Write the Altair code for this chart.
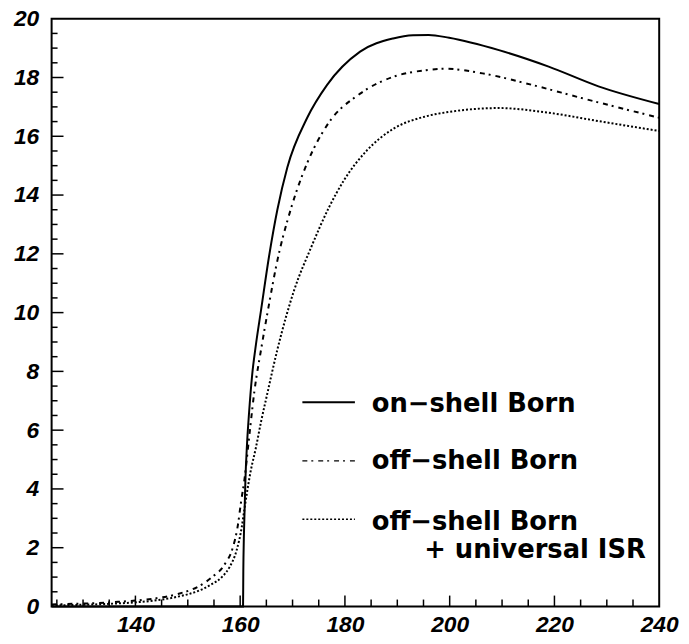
import altair as alt
import pandas as pd

# ---- data ----
on_x = [124, 160.55, 160.6, 160.7, 160.85, 161.0, 161.3, 161.7, 162.3, 163.0, 164.0, 165.5,
        167.1, 169.0, 172.8, 176.6, 182.9, 189.2, 193.0, 196.0, 199.9, 209.4, 218.9, 228.4, 240]
on_y = [0, 0, 1.2, 2.3, 3.3, 4.3, 5.5, 6.6, 7.9, 8.9, 10.1, 11.9,
        13.5, 14.94, 16.63, 17.75, 18.88, 19.33, 19.44, 19.45, 19.35, 18.93, 18.37, 17.70, 17.10]

off_x = [124, 128, 132, 136, 140, 144, 148, 152, 154.5, 157.1, 158.5, 159.5, 160.2, 160.8,
         161.8, 162.7, 164.0, 165.3, 167.1, 169.7, 172.8, 176.6, 182.9, 189.2, 195.5, 199.0,
         206.3, 215.7, 225.2, 240]
off_y = [0.07, 0.09, 0.11, 0.15, 0.20, 0.28, 0.42, 0.68, 0.98, 1.45, 1.95, 2.7, 3.6, 4.3,
         5.9, 7.3, 8.75, 10.08, 11.77, 13.54, 15.09, 16.38, 17.45, 18.02, 18.25, 18.30,
         18.14, 17.75, 17.30, 16.63]

isr_x = [124, 128, 132, 136, 140, 144, 148, 152, 154.5, 156.5, 158.0, 159.3, 160.3, 160.8,
         162.0, 163.0, 164.0, 165.0, 167.1, 170.3, 173.5, 176.9, 179.8, 184.2, 189.2, 195.5,
         199.9, 209.4, 218.9, 228.3, 240]
isr_y = [0.04, 0.05, 0.07, 0.10, 0.14, 0.21, 0.33, 0.53, 0.75, 1.0, 1.35, 1.9, 2.7, 3.3,
         4.6, 5.4, 6.3, 7.1, 8.74, 10.76, 12.2, 13.56, 14.5, 15.52, 16.25, 16.68,
         16.83, 16.96, 16.80, 16.52, 16.18]

x_labels = [140, 160, 180, 200, 220, 240]
y_labels = [0, 2, 4, 6, 8, 10, 12, 14, 16, 18, 20]
x_major = [140, 160, 180, 200, 220]
x_minor = [125, 130, 135, 145, 150, 155, 165, 170, 175, 185, 190, 195, 205, 210, 215, 225, 230, 235]
y_major = [2, 4, 6, 8, 10, 12, 14, 16, 18]
y_minor = [v / 2 for v in range(1, 40) if v % 4 != 0]

legend_labels = ["on\u2212shell Born", "off\u2212shell Born", "off\u2212shell Born", "+ universal ISR"]

# ---- layout ----
W, H = 613, 593
xs = alt.Scale(domain=[124, 240], nice=False, zero=False)
ys = alt.Scale(domain=[0, 20], nice=False, zero=False)

lab = dict(labelFont="Liberation Sans", labelFontSize=23, labelFontWeight="bold",
           labelFontStyle="italic", labelColor="black", ticks=False, tickSize=0,
           domain=False, grid=False, title=None, labelFlush=False, labelOverlap=False)
xaxis = alt.Axis(values=x_labels, format="d", labelPadding=7, **lab)
yaxis = alt.Axis(values=y_labels, format="d", labelPadding=13, **lab)


def curve(xv, yv, dash, width):
    df = pd.DataFrame({"x": xv, "y": yv})
    kw = dict(color="black", strokeWidth=width, interpolate="monotone")
    if dash:
        kw["strokeDash"] = dash
    return alt.Chart(df).mark_line(**kw).encode(
        x=alt.X("x:Q", scale=xs, axis=xaxis),
        y=alt.Y("y:Q", scale=ys, axis=yaxis),
    )


def xticks(vals, length):
    return alt.Chart(pd.DataFrame({"x": vals})).mark_rule(color="black", strokeWidth=1.5).encode(
        x=alt.X("x:Q", scale=xs, axis=xaxis), y=alt.value(H), y2=alt.value(H - length))


def yticks(vals, length):
    return alt.Chart(pd.DataFrame({"y": vals})).mark_rule(color="black", strokeWidth=1.5).encode(
        y=alt.Y("y:Q", scale=ys, axis=yaxis), x=alt.value(0), x2=alt.value(length))


def sample(ypix, dash, width):
    kw = dict(color="black", strokeWidth=width)
    if dash:
        kw["strokeDash"] = dash
    return alt.Chart(pd.DataFrame({"a": [0]})).mark_rule(**kw).encode(
        x=alt.value(253), x2=alt.value(306), y=alt.value(ypix))


def text(label, xpix, ypix):
    return alt.Chart(pd.DataFrame({"label": [label]})).mark_text(
        font="DejaVu Sans", fontSize=26, fontWeight="bold", color="black",
        align="left", baseline="alphabetic").encode(
        x=alt.value(xpix), y=alt.value(ypix), text="label:N")


DASHDOT = [5, 4, 2, 5]
DOT = [2, 2]

chart = alt.layer(
    curve(on_x, on_y, None, 2),
    curve(off_x, off_y, DASHDOT, 2),
    curve(isr_x, isr_y, DOT, 2),
    xticks(x_major, 11), xticks(x_minor, 7),
    yticks(y_major, 12), yticks(y_minor, 6),
    sample(387, None, 2), sample(446, DASHDOT, 1.3), sample(505, DOT, 1.3),
    text(legend_labels[0], 323, 397),
    text(legend_labels[1], 323, 454),
    text(legend_labels[2], 323, 516),
    text(legend_labels[3], 376, 544),
).properties(
    width=W, height=H,
    autosize=alt.AutoSizeParams(type="none"),
    padding={"left": 44, "top": 8, "right": 22, "bottom": 32},
).configure_view(stroke="black", strokeWidth=2)

chart.save("out.html", embed_options={"renderer": "svg", "actions": False})
